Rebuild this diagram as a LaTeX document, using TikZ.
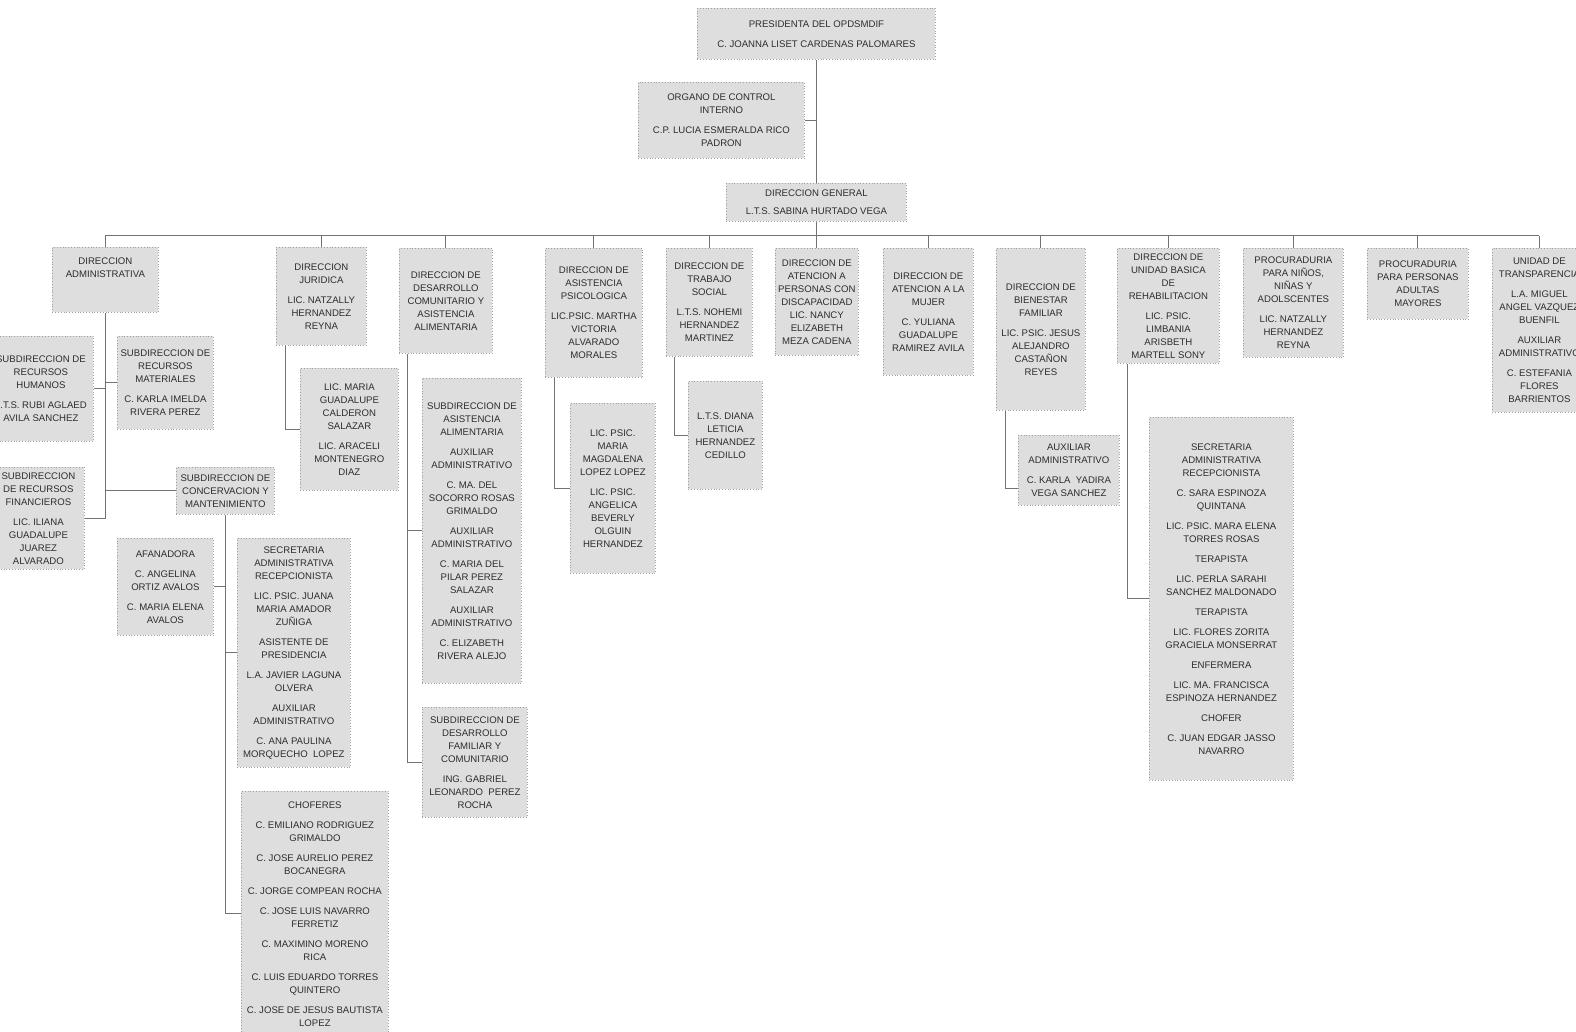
\documentclass[tikz,border=0pt]{standalone}
\usepackage{fontspec}
\setmainfont{Liberation Sans}
\usepackage{tikz}

\definecolor{fondo}{RGB}{222,222,222}
\definecolor{borde}{RGB}{160,160,160}
\definecolor{traza}{RGB}{115,115,115}
\definecolor{letra}{RGB}{45,45,45}

\tikzset{
  caja/.style={draw=borde, densely dotted, fill=fondo, anchor=north west, align=center,
    inner sep=1pt, text=letra, font=\fontsize{4.8}{6.5}\selectfont},
  conector/.style={draw=traza, line width=0.5pt},
}

\begin{document}
\begin{tikzpicture}[x=0.5pt,y=-0.5pt]
  \useasboundingbox (0,0) rectangle (1576,1032);
  \clip (0,0) rectangle (1576,1032);

  % Presidencia y direccion general
  \node[caja, minimum width=119pt, minimum height=25.5pt] (pres) at (697,8)
    {PRESIDENTA DEL OPDSMDIF\\[3.5pt] C. JOANNA LISET CARDENAS PALOMARES};
  \node[caja, minimum width=83pt, minimum height=38pt] (oci) at (638,82)
    {ORGANO DE CONTROL\\INTERNO\\[3.5pt] C.P. LUCIA ESMERALDA RICO\\PADRON};
  \node[caja, minimum width=90pt, minimum height=19pt] (dg) at (726,183)
    {DIRECCION GENERAL\\[2.5pt] L.T.S. SABINA HURTADO VEGA};
  \coordinate (bus) at (0,236);

  % Direcciones
  \node[caja, minimum width=53pt, minimum height=32.5pt, text depth=12pt] (adm) at (52,247)
    {DIRECCION\\ADMINISTRATIVA};
  \node[caja, minimum width=45pt, minimum height=49pt] (jur) at (276,247)
    {DIRECCION\\JURIDICA\\[3.5pt] LIC. NATZALLY\\HERNANDEZ\\REYNA};
  \node[caja, minimum width=46.5pt, minimum height=52.5pt] (dca) at (399,248)
    {DIRECCION DE\\DESARROLLO\\COMUNITARIO Y\\ASISTENCIA\\ALIMENTARIA};
  \node[caja, minimum width=48.5pt, minimum height=64.5pt] (psi) at (545,248)
    {DIRECCION DE\\ASISTENCIA\\PSICOLOGICA\\[3.5pt] LIC.PSIC. MARTHA\\VICTORIA\\ALVARADO\\MORALES};
  \node[caja, minimum width=43pt, minimum height=54pt] (tso) at (666,248)
    {DIRECCION DE\\TRABAJO\\SOCIAL\\[3.5pt] L.T.S. NOHEMI\\HERNANDEZ\\MARTINEZ};
  \node[caja, minimum width=41.5pt, minimum height=53.5pt] (dis) at (775,248)
    {DIRECCION DE\\ATENCION A\\PERSONAS CON\\DISCAPACIDAD\\LIC. NANCY\\ELIZABETH\\MEZA CADENA};
  \node[caja, minimum width=45pt, minimum height=63.5pt] (muj) at (883,248)
    {DIRECCION DE\\ATENCION A LA\\MUJER\\[3.5pt] C. YULIANA\\GUADALUPE\\RAMIREZ AVILA};
  \node[caja, minimum width=44.5pt, minimum height=81pt] (bfa) at (996,248)
    {DIRECCION DE\\BIENESTAR\\FAMILIAR\\[3.5pt] LIC. PSIC. JESUS\\ALEJANDRO\\CASTAÑON\\REYES};
  \node[caja, minimum width=51pt, minimum height=57.5pt] (ubr) at (1117,248)
    {DIRECCION DE\\UNIDAD BASICA\\DE\\REHABILITACION\\[3.5pt] LIC. PSIC.\\LIMBANIA\\ARISBETH\\MARTELL SONY};
  \node[caja, minimum width=50pt, minimum height=54.5pt] (pnn) at (1243,248)
    {PROCURADURIA\\PARA NIÑOS,\\NIÑAS Y\\ADOLSCENTES\\[3.5pt] LIC. NATZALLY\\HERNANDEZ\\REYNA};
  \node[caja, minimum width=50.5pt, minimum height=35.5pt] (pam) at (1367,248)
    {PROCURADURIA\\PARA PERSONAS\\ADULTAS\\MAYORES};
  \node[caja, minimum width=47pt, minimum height=82pt] (utr) at (1492,248)
    {UNIDAD DE\\TRANSPARENCIA\\[3.5pt] L.A. MIGUEL\\ANGEL VAZQUEZ\\BUENFIL\\[3.5pt]
     AUXILIAR\\ADMINISTRATIVO\\[3.5pt] C. ESTEFANIA\\FLORES\\BARRIENTOS};

  % Direccion administrativa
  \node[caja, minimum width=52.5pt, minimum height=52.5pt] (rh) at (-12,336)
    {SUBDIRECCION DE\\RECURSOS\\HUMANOS\\[3.5pt] L.T.S. RUBI AGLAED\\AVILA SANCHEZ};
  \node[caja, minimum width=48pt, minimum height=46.5pt] (rm) at (117,336)
    {SUBDIRECCION DE\\RECURSOS\\MATERIALES\\[3.5pt] C. KARLA IMELDA\\RIVERA PEREZ};
  \node[caja, minimum width=46pt, minimum height=51pt] (rf) at (-8,467)
    {SUBDIRECCION\\DE RECURSOS\\FINANCIEROS\\[3.5pt] LIC. ILIANA\\GUADALUPE\\JUAREZ\\ALVARADO};
  \node[caja, minimum width=49pt, minimum height=23.5pt] (cym) at (176,467)
    {SUBDIRECCION DE\\CONCERVACION Y\\MANTENIMIENTO};
  \node[caja, minimum width=48pt, minimum height=48.5pt] (afa) at (117,538)
    {AFANADORA\\[3.5pt] C. ANGELINA\\ORTIZ AVALOS\\[3.5pt] C. MARIA ELENA\\AVALOS};
  \node[caja, minimum width=56.5pt, minimum height=114.5pt] (sec) at (237,538)
    {SECRETARIA\\ADMINISTRATIVA\\RECEPCIONISTA\\[3.5pt] LIC. PSIC. JUANA\\MARIA AMADOR\\ZUÑIGA\\[3.5pt]
     ASISTENTE DE\\PRESIDENCIA\\[3.5pt] L.A. JAVIER LAGUNA\\OLVERA\\[3.5pt]
     AUXILIAR\\ADMINISTRATIVO\\[3.5pt] C. ANA PAULINA\\MORQUECHO\ \ LOPEZ};
  \node[caja, minimum width=73.5pt, minimum height=122.5pt] (cho) at (241,791)
    {CHOFERES\\[3.5pt] C. EMILIANO RODRIGUEZ\\GRIMALDO\\[3.5pt] C. JOSE AURELIO PEREZ\\BOCANEGRA\\[3.5pt]
     C. JORGE COMPEAN ROCHA\\[3.5pt] C. JOSE LUIS NAVARRO\\FERRETIZ\\[3.5pt] C. MAXIMINO MORENO\\RICA\\[3.5pt]
     C. LUIS EDUARDO TORRES\\QUINTERO\\[3.5pt] C. JOSE DE JESUS BAUTISTA\\LOPEZ};

  % Areas de las demas direcciones
  \node[caja, minimum width=49pt, minimum height=61pt] (jurhijo) at (300,368)
    {LIC. MARIA\\GUADALUPE\\CALDERON\\SALAZAR\\[3.5pt] LIC. ARACELI\\MONTENEGRO\\DIAZ};
  \node[caja, minimum width=49.5pt, minimum height=152.5pt] (saa) at (422,378)
    {SUBDIRECCION DE\\ASISTENCIA\\ALIMENTARIA\\[3.5pt] AUXILIAR\\ADMINISTRATIVO\\[3.5pt]
     C. MA. DEL\\SOCORRO ROSAS\\GRIMALDO\\[3.5pt] AUXILIAR\\ADMINISTRATIVO\\[3.5pt]
     C. MARIA DEL\\PILAR PEREZ\\SALAZAR\\[3.5pt] AUXILIAR\\ADMINISTRATIVO\\[3.5pt] C. ELIZABETH\\RIVERA ALEJO};
  \node[caja, minimum width=52.5pt, minimum height=55pt] (sdf) at (422,707)
    {SUBDIRECCION DE\\DESARROLLO\\FAMILIAR Y\\COMUNITARIO\\[3.5pt] ING. GABRIEL\\LEONARDO\ \ PEREZ\\ROCHA};
  \node[caja, minimum width=42.5pt, minimum height=85pt] (psihijo) at (570,403)
    {LIC. PSIC.\\MARIA\\MAGDALENA\\LOPEZ LOPEZ\\[3.5pt] LIC. PSIC.\\ANGELICA\\BEVERLY\\OLGUIN\\HERNANDEZ};
  \node[caja, minimum width=37pt, minimum height=54pt] (tsohijo) at (688,381)
    {L.T.S. DIANA\\LETICIA\\HERNANDEZ\\CEDILLO};
  \node[caja, minimum width=50.5pt, minimum height=35pt] (bfaaux) at (1018,435)
    {AUXILIAR\\ADMINISTRATIVO\\[3.5pt] C. KARLA\ \ YADIRA\\VEGA SANCHEZ};
  \node[caja, minimum width=72pt, minimum height=181.5pt] (ubrhijo) at (1149,417)
    {SECRETARIA\\ADMINISTRATIVA\\RECEPCIONISTA\\[3.5pt] C. SARA ESPINOZA\\QUINTANA\\[3.5pt]
     LIC. PSIC. MARA ELENA\\TORRES ROSAS\\[3.5pt] TERAPISTA\\[3.5pt] LIC. PERLA SARAHI\\SANCHEZ MALDONADO\\[3.5pt]
     TERAPISTA\\[3.5pt] LIC. FLORES ZORITA\\GRACIELA MONSERRAT\\[3.5pt] ENFERMERA\\[3.5pt]
     LIC. MA. FRANCISCA\\ESPINOZA HERNANDEZ\\[3.5pt] CHOFER\\[3.5pt] C. JUAN EDGAR JASSO\\NAVARRO};

  % Lineas de mando
  \draw[conector] (pres.south) -- (dg.north);
  \draw[conector] (oci.east) -- (oci.east -| pres.south);
  \draw[conector] (dg.south) -- (dg.south |- bus);
  \draw[conector] (adm.north |- bus) -- (utr.north |- bus);
  \foreach \d in {adm,jur,dca,psi,tso,dis,muj,bfa,ubr,pnn,pam,utr}
    \draw[conector] (\d.north) -- (\d.north |- bus);

  \draw[conector] (adm.south) |- (rf.east);
  \draw[conector] (rh.east) -- (rh.east -| adm.south);
  \draw[conector] (rm.west) -- (rm.west -| adm.south);
  \draw[conector] (cym.west) -- (cym.west -| adm.south);
  \draw[conector] (cym.south) |- (cho.west);
  \draw[conector] (afa.east) -- (afa.east -| cym.south);
  \draw[conector] (sec.west) -- (sec.west -| cym.south);

  \coordinate (dcab) at ([xshift=4pt]dca.south west);
  \draw[conector] ([xshift=4.5pt]jur.south west) |- (jurhijo.west);
  \draw[conector] (dcab) |- (sdf.west);
  \draw[conector] (saa.west) -- (saa.west -| dcab);
  \draw[conector] ([xshift=4.5pt]psi.south west) |- (psihijo.west);
  \draw[conector] ([xshift=4pt]tso.south west) |- (tsohijo.west);
  \draw[conector] ([xshift=4.5pt]bfa.south west) |- ([yshift=-9pt]bfaaux.west);
  \draw[conector] ([xshift=5pt]ubr.south west) |- (ubrhijo.west);
\end{tikzpicture}
\end{document}
